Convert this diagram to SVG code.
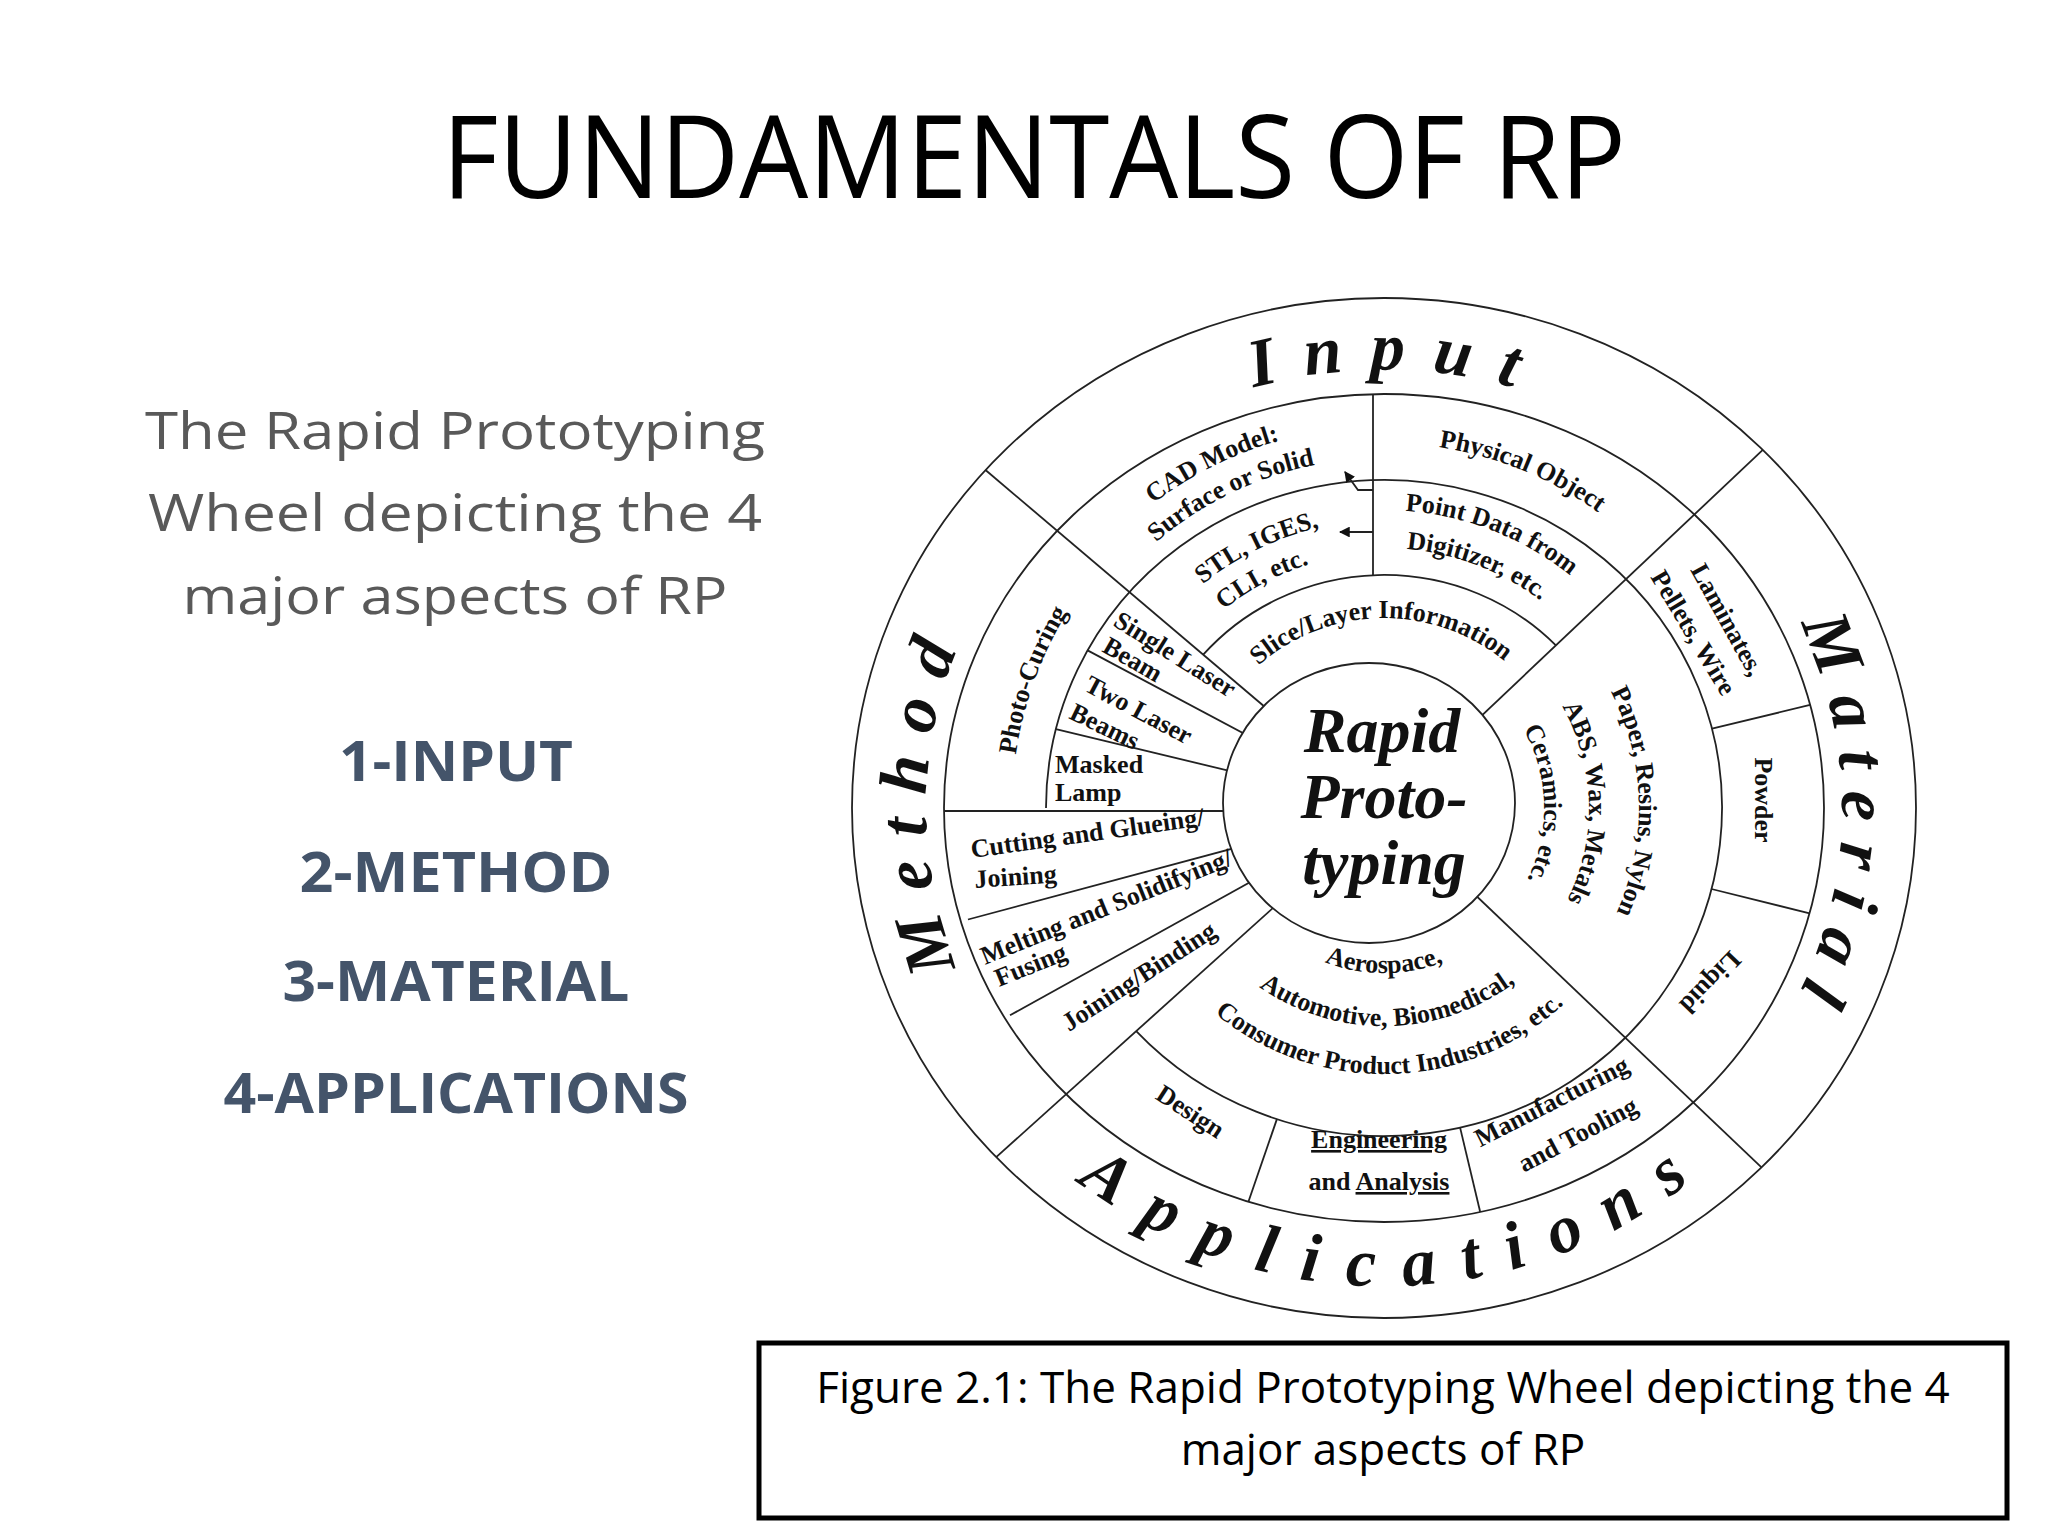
<svg xmlns="http://www.w3.org/2000/svg" xmlns:xlink="http://www.w3.org/1999/xlink" width="2048" height="1536" viewBox="0 0 2048 1536">
<style>
.ln{fill:none;stroke:#222;stroke-width:1.8}
.w{font-family:"Liberation Serif",serif;font-weight:bold;font-size:26px;fill:#111}
.big{font-family:"Liberation Serif",serif;font-weight:bold;font-style:italic;font-size:68px;fill:#111}
.ctr{font-family:"Liberation Serif",serif;font-weight:bold;font-style:italic;font-size:64px;fill:#111;text-anchor:middle}
.lt{font-family:"Open Sans","Liberation Sans",sans-serif;font-size:52px;fill:#595959;text-anchor:middle}
.li{font-family:"Open Sans","Liberation Sans",sans-serif;font-weight:bold;font-size:56px;fill:#44546a;text-anchor:middle}
.cap{font-family:"Open Sans","Liberation Sans",sans-serif;font-size:44px;fill:#000;text-anchor:middle}
</style>
<defs>
<marker id="ah" viewBox="0 0 10 10" refX="9" refY="5" markerWidth="6" markerHeight="6" orient="auto"><path d="M0,0 L10,5 L0,10 z" fill="#111"/></marker>
<path id="pIn" d="M1162.6,424.4 A458,438 0 0 1 1605.4,424.4"/>
<path id="pMe" d="M1014.5,1066.7 A458,438 0 0 1 1014.5,549.3"/>
<path id="pMa" d="M1753.5,549.3 A458,438 0 0 1 1753.5,1066.7"/>
<path id="pAp" d="M985.9,1086.7 A490,478 0 0 0 1782.1,1086.7"/>
<path id="t382" d="M1025,677.4 A382,382 0 0 1 1743,677.4"/>
<path id="t350" d="M1055.1,688.3 A350,350 0 0 1 1712.9,688.3"/>
<path id="t288" d="M1113.4,709.5 A288,288 0 0 1 1654.6,709.5"/>
<path id="t255" d="M1144.4,720.8 A255,255 0 0 1 1623.6,720.8"/>
<path id="t365" d="M1041,683.2 A365,365 0 0 1 1727,683.2"/>
<path id="t298" d="M1104,706.1 A298,298 0 0 1 1664,706.1"/>
<path id="t260" d="M1139.7,719.1 A260,260 0 0 1 1628.3,719.1"/>
<path id="t190" d="M1205.5,743 A190,190 0 0 1 1562.5,743"/>
<path id="t205" d="M1191.4,737.9 A205,205 0 0 1 1576.6,737.9"/>
<path id="t160" d="M1233.6,753.3 A160,160 0 0 1 1534.4,753.3"/>
<path id="t372" d="M1034.4,680.8 A372,372 0 0 1 1733.6,680.8"/>
<path id="b165" d="M1228.9,864.4 A165,165 0 0 0 1539.1,864.4"/>
<path id="b218" d="M1179.1,882.6 A218,218 0 0 0 1588.9,882.6"/>
<path id="b266" d="M1134,899 A266,266 0 0 0 1634,899"/>
</defs>
<rect width="2048" height="1536" fill="#fff"/>

<g id="title"><text x="1034" y="198" font-family="Open Sans, Liberation Sans, sans-serif" font-size="115" text-anchor="middle" textLength="1184" lengthAdjust="spacingAndGlyphs">FUNDAMENTALS OF RP</text></g>

<g id="intro">
<text class="lt" x="455" y="449" textLength="620" lengthAdjust="spacingAndGlyphs">The Rapid Prototyping</text>
<text class="lt" x="455" y="531" textLength="614" lengthAdjust="spacingAndGlyphs">Wheel depicting the 4</text>
<text class="lt" x="455" y="614" textLength="545" lengthAdjust="spacingAndGlyphs">major aspects of RP</text>
</g>
<g id="list">
<text class="li" x="456" y="781" textLength="234" lengthAdjust="spacingAndGlyphs">1-INPUT</text>
<text class="li" x="456" y="892" textLength="313" lengthAdjust="spacingAndGlyphs">2-METHOD</text>
<text class="li" x="456" y="1001" textLength="347" lengthAdjust="spacingAndGlyphs">3-MATERIAL</text>
<text class="li" x="456" y="1113" textLength="465" lengthAdjust="spacingAndGlyphs">4-APPLICATIONS</text>
</g>

<g id="wheel-rings">
<ellipse class="ln" cx="1384" cy="808" rx="532" ry="510"/>
<ellipse class="ln" cx="1384" cy="808" rx="440" ry="414"/>
<path class="ln" d="M1046,808 A338,328 0 1 1 1136.2,1031.1"/>
<path class="ln" d="M1203.2,654.7 A240,233 0 0 1 1555.9,645.4"/>
</g>
<g id="connectors">
<line class="ln" x1="1384" y1="808" x2="1762.8" y2="449.8"/>
<line class="ln" x1="1384" y1="808" x2="985.5" y2="470"/>
<line class="ln" x1="1384" y1="808" x2="996.2" y2="1157.2"/>
<line class="ln" x1="1384" y1="808" x2="1761.5" y2="1167.4"/>
<line class="ln" x1="1384" y1="811" x2="944" y2="811" stroke-width="2.5"/>
<line class="ln" x1="1384" y1="808" x2="968" y2="919.5"/>
<line class="ln" x1="1384" y1="808" x2="1010" y2="1015.3"/>
<line class="ln" x1="1384" y1="808" x2="1087.6" y2="650.4"/>
<line class="ln" x1="1384" y1="808" x2="1055.9" y2="729.2"/>
<line class="ln" x1="1276.9" y1="1119.1" x2="1248.4" y2="1201.8"/>
<line class="ln" x1="1460.1" y1="1127.6" x2="1480.2" y2="1212"/>
<line class="ln" x1="1712" y1="728.7" x2="1810.1" y2="704.9"/>
<line class="ln" x1="1711.5" y1="889" x2="1809.6" y2="913.3"/>
<line class="ln" x1="1373" y1="394" x2="1373" y2="575" stroke="#555" stroke-width="2.5"/>
<line class="ln" x1="1373" y1="532" x2="1340" y2="532" stroke-width="3.5" marker-end="url(#ah)"/>
<path class="ln" d="M1373,490 L1358,490 L1345,472" stroke-width="3.5" marker-end="url(#ah)"/>
</g>
<g id="center">
<ellipse cx="1369" cy="803" rx="146" ry="140" fill="#fff" stroke="#222" stroke-width="1.8"/>
<text class="ctr" x="1382" y="752">Rapid</text>
<text class="ctr" x="1384" y="818">Proto-</text>
<text class="ctr" x="1384" y="884">typing</text>
</g>

<g id="labels-outer">
<text class="big" letter-spacing="27"><textPath href="#pIn" xlink:href="#pIn" startOffset="50%" text-anchor="middle"><tspan dx="13">Input</tspan></textPath></text>
<text class="big" letter-spacing="22"><textPath href="#pMe" xlink:href="#pMe" startOffset="50%" text-anchor="middle"><tspan dx="11">Method</tspan></textPath></text>
<text class="big" letter-spacing="20"><textPath href="#pMa" xlink:href="#pMa" startOffset="50%" text-anchor="middle"><tspan dx="10">Material</tspan></textPath></text>
<text class="big" letter-spacing="28"><textPath href="#pAp" xlink:href="#pAp" startOffset="50%" text-anchor="middle"><tspan dx="14">Applications</tspan></textPath></text>
</g>

<g id="input">
<text class="w" font-size="27" transform="rotate(-26.5 1384 808)"><textPath href="#t382" xlink:href="#t382" startOffset="50%" text-anchor="middle">CAD Model:</textPath></text>
<text class="w" font-size="27" transform="rotate(-26 1384 808)"><textPath href="#t350" xlink:href="#t350" startOffset="50%" text-anchor="middle">Surface or Solid</textPath></text>
<text class="w" font-size="27" transform="rotate(-26 1384 808)"><textPath href="#t288" xlink:href="#t288" startOffset="50%" text-anchor="middle">STL, IGES,</textPath></text>
<text class="w" font-size="27" transform="rotate(-28 1384 808)"><textPath href="#t255" xlink:href="#t255" startOffset="50%" text-anchor="middle">CLI, etc.</textPath></text>
<text class="w" transform="rotate(22.3 1384 808)"><textPath href="#t365" xlink:href="#t365" startOffset="50%" text-anchor="middle">Physical Object</textPath></text>
<text class="w" transform="rotate(21.4 1384 808)"><textPath href="#t298" xlink:href="#t298" startOffset="50%" text-anchor="middle">Point Data from</textPath></text>
<text class="w" transform="rotate(21 1384 808)"><textPath href="#t260" xlink:href="#t260" startOffset="50%" text-anchor="middle">Digitizer, etc.</textPath></text>
<text class="w" transform="rotate(-1 1384 808)"><textPath href="#t190" xlink:href="#t190" startOffset="50%" text-anchor="middle">Slice/Layer Information</textPath></text>
</g>

<g id="method">
<text class="w" transform="rotate(-70 1384 808)"><textPath href="#t372" xlink:href="#t372" startOffset="50%" text-anchor="middle">Photo-Curing</textPath></text>
<text class="w" font-size="22" transform="rotate(32 1112 625)" x="1112" y="625">Single Laser</text>
<text class="w" font-size="22" transform="rotate(30 1101 651)" x="1101" y="651">Beam</text>
<text class="w" font-size="22" transform="rotate(28 1083 690)" x="1083" y="690">Two Laser</text>
<text class="w" font-size="22" transform="rotate(26 1068 718)" x="1068" y="718">Beams</text>
<text class="w" font-size="23" x="1055" y="773">Masked</text>
<text class="w" font-size="23" x="1055" y="801">Lamp</text>
<text class="w" font-size="23" transform="rotate(-8 972 858)" x="972" y="858">Cutting and Glueing/</text>
<text class="w" font-size="23" transform="rotate(-4 975 888)" x="975" y="888">Joining</text>
<text class="w" font-size="23" transform="rotate(-22 985 965)" x="985" y="965">Melting and Solidifying/</text>
<text class="w" font-size="23" transform="rotate(-22 999 987)" x="999" y="987">Fusing</text>
<text class="w" font-size="23" transform="rotate(-33 1069 1032)" x="1069" y="1032">Joining/Binding</text>
</g>

<g id="material">
<text class="w" transform="rotate(88.5 1384 808)"><textPath href="#t255" xlink:href="#t255" startOffset="50%" text-anchor="middle">Paper, Resins, Nylon</textPath></text>
<text class="w" transform="rotate(88.5 1384 808)"><textPath href="#t205" xlink:href="#t205" startOffset="50%" text-anchor="middle">ABS, Wax, Metals</textPath></text>
<text class="w" transform="rotate(88.5 1384 808)"><textPath href="#t160" xlink:href="#t160" startOffset="50%" text-anchor="middle">Ceramics, etc.</textPath></text>
<text class="w" font-size="24" text-anchor="middle" transform="rotate(61 1727 620)" x="1727" y="628">Laminates,</text>
<text class="w" font-size="24" text-anchor="middle" transform="rotate(59 1693 633)" x="1693" y="641">Pellets, Wire</text>
<text class="w" font-size="24" text-anchor="middle" transform="rotate(90 1763 800)" x="1763" y="808">Powder</text>
<text class="w" font-size="24" text-anchor="middle" transform="rotate(134 1710 982)" x="1710" y="990">Liquid</text>
</g>

<g id="applications">
<text class="w" font-size="27"><textPath href="#b165" xlink:href="#b165" startOffset="50%" text-anchor="middle">Aerospace,</textPath></text>
<text class="w" font-size="27" transform="rotate(-1 1384 808)"><textPath href="#b218" xlink:href="#b218" startOffset="50%" text-anchor="middle">Automotive, Biomedical,</textPath></text>
<text class="w" font-size="26" transform="rotate(-1.5 1384 808)"><textPath href="#b266" xlink:href="#b266" startOffset="50%" text-anchor="middle">Consumer Product Industries, etc.</textPath></text>
<text class="w" font-size="25" text-anchor="middle" transform="rotate(33 1190 1112)" x="1190" y="1120">Design</text>
<text class="w" font-size="25" text-anchor="middle" text-decoration="underline" x="1379" y="1148">Engineering</text>
<text class="w" font-size="25" text-anchor="middle" x="1379" y="1190">and <tspan text-decoration="underline">Analysis</tspan></text>
<text class="w" font-size="25" text-anchor="middle" transform="rotate(-27 1552 1102)" x="1552" y="1110">Manufacturing</text>
<text class="w" font-size="25" text-anchor="middle" transform="rotate(-28 1578 1135)" x="1578" y="1143">and Tooling</text>
</g>

<g id="caption">
<rect x="759" y="1343" width="1248" height="175" fill="none" stroke="#000" stroke-width="5"/>
<text class="cap" x="1383" y="1403">Figure 2.1: The Rapid Prototyping Wheel depicting the 4</text>
<text class="cap" x="1383" y="1465">major aspects of RP</text>
</g>
</svg>
